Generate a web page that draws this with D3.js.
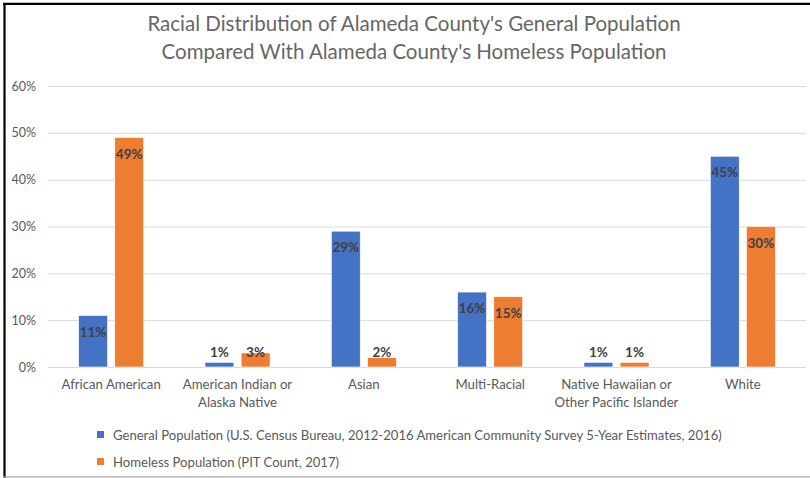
<!DOCTYPE html>
<html><head><meta charset="utf-8">
<script src="https://cdn.jsdelivr.net/npm/d3@7"></script>
<style>
html,body{margin:0;padding:0;background:#fff;}
svg{display:block;}
text{font-family:Lato,"Open Sans",sans-serif;}
</style></head>
<body><svg id="c" width="810" height="478"></svg>
<script>
const categories = [["African American"],["American Indian or","Alaska Native"],["Asian"],["Multi-Racial"],["Native Hawaiian or","Other Pacific Islander"],["White"]];
const generalPop = [0.11,0.01,0.29,0.16,0.01,0.45];
const homelessPop = [0.49,0.03,0.02,0.15,0.01,0.30];
const seriesNames = ["General Population (U.S. Census Bureau, 2012-2016 American Community Survey 5-Year Estimates, 2016)","Homeless Population (PIT Count, 2017)"];
const yTicks = [0,0.1,0.2,0.3,0.4,0.5,0.6];
const titleLines = ["Racial Distribution of Alameda County's General Population","Compared With Alameda County's Homeless Population"];
const colors = ["#4472C4","#ED7D31"];

const svg = d3.select("#c");
// border
svg.append("rect").attr("x",0).attr("y",0).attr("width",810).attr("height",478).attr("fill","#fff");
svg.append("line").attr("x1",4.5).attr("x2",4.5).attr("y1",3).attr("y2",478).attr("stroke","#000").attr("stroke-width",2.2);
svg.append("line").attr("x1",3).attr("x2",810).attr("y1",3.8).attr("y2",3.8).attr("stroke","#000").attr("stroke-width",2.2);
svg.append("line").attr("x1",3).attr("x2",810).attr("y1",476.8).attr("y2",476.8).attr("stroke","#a6a6a6").attr("stroke-width",1.2);

const L=48, R=806, T=86, B=367;
const idx = d3.range(categories.length);
const x0 = d3.scaleBand().domain(idx).range([L,R]).paddingInner(0.485).paddingOuter(0.2425);
const x1 = d3.scaleBand().domain([0,1]).range([0,x0.bandwidth()]).paddingInner(0.2);
const y = d3.scaleLinear().domain([0,0.6]).range([B,T]);

// title
svg.append("g").selectAll("text").data(titleLines).join("text")
  .attr("x",414).attr("y",(d,i)=>31+i*28).attr("text-anchor","middle")
  .attr("font-size",20.5).attr("font-weight",400).attr("fill","#666666").text(d=>d);

// grid
const yAxis = d3.axisLeft(y).tickValues(yTicks).tickFormat(d3.format(".0%")).tickSize(-(R-L)).tickPadding(12);
const gy = svg.append("g").attr("transform",`translate(${L},0)`).call(yAxis);
gy.select(".domain").remove();
gy.selectAll(".tick line").attr("stroke","#d9d9d9").attr("stroke-width",1);
gy.selectAll(".tick text").attr("fill","#595959").attr("font-size",12.5).attr("font-family","Lato,sans-serif");

// bars
const data = idx.map(i=>[generalPop[i],homelessPop[i]]);
const groups = svg.append("g").selectAll("g").data(data).join("g")
  .attr("transform",(d,i)=>`translate(${x0(i)},0)`);
groups.selectAll("rect").data(d=>d.map((v,s)=>({v,s}))).join("rect")
  .attr("x",d=>x1(d.s)).attr("width",x1.bandwidth())
  .attr("y",d=>y(d.v)).attr("height",d=>B-y(d.v))
  .attr("fill",d=>colors[d.s]).attr("stroke","#fff").attr("stroke-width",0.6);
groups.selectAll("text").data(d=>d.map((v,s)=>({v,s}))).join("text")
  .attr("x",d=>x1(d.s)+x1.bandwidth()/2)
  .attr("y",d=>Math.min(y(d.v)+16.5,352.5)).attr("dy","0.35em")
  .attr("text-anchor","middle").attr("font-size",13.5).attr("font-weight",700).attr("fill","#404040")
  .text(d=>d3.format(".0%")(d.v));

// x labels
const xl = svg.append("g").selectAll("text").data(categories).join("text")
  .attr("x",(d,i)=>x0(i)+x0.bandwidth()/2).attr("y",389).attr("text-anchor","middle")
  .attr("font-size",13.2).attr("fill","#595959");
xl.selectAll("tspan").data(d=>d).join("tspan")
  .attr("x",function(){return this.parentNode.getAttribute("x");})
  .attr("dy",(d,i)=>i?18:0).text(d=>d);

// legend
const lg = svg.append("g").selectAll("g").data(seriesNames).join("g")
  .attr("transform",(d,i)=>`translate(97,${435+i*27})`);
lg.append("rect").attr("x",0).attr("y",-4).attr("width",7).attr("height",7).attr("fill",(d,i)=>colors[i]);
lg.append("text").attr("x",16).attr("y",0).attr("dy","0.35em").attr("font-size",13.1).attr("fill","#595959").text(d=>d);
</script></body></html>
